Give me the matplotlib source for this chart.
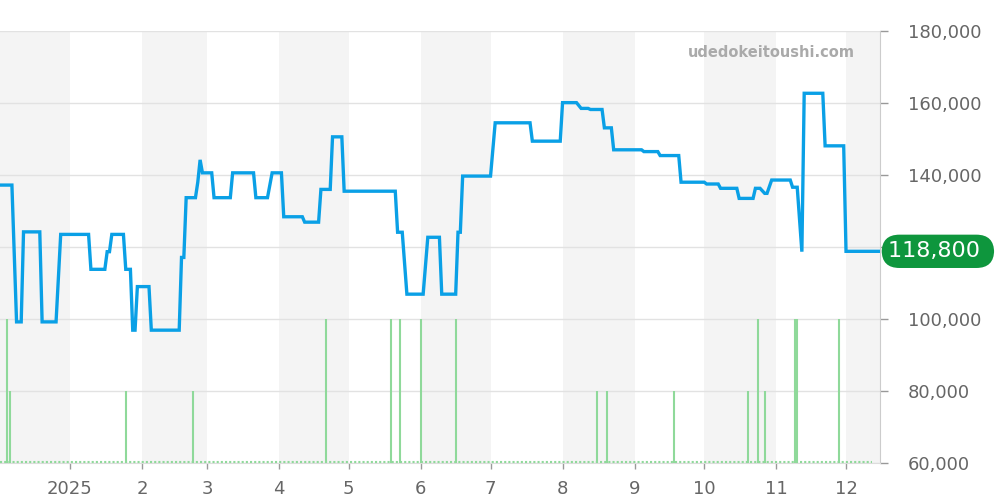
import matplotlib
matplotlib.use("Agg")
import matplotlib.pyplot as plt
import pandas as pd

# ---- data ----
price_dates = [
    "2024-12-02", "2024-12-07", "2024-12-09", "2024-12-11", "2024-12-12", "2024-12-19",
    "2024-12-20", "2024-12-26", "2024-12-28", "2025-01-09", "2025-01-10", "2025-01-16",
    "2025-01-17", "2025-01-18", "2025-01-19", "2025-01-24", "2025-01-25", "2025-01-27",
    "2025-01-28", "2025-01-29", "2025-01-30", "2025-02-04", "2025-02-05", "2025-02-17",
    "2025-02-18", "2025-02-19", "2025-02-20", "2025-02-24", "2025-02-25", "2025-02-26",
    "2025-02-27", "2025-03-03", "2025-03-04", "2025-03-11", "2025-03-12", "2025-03-21",
    "2025-03-22", "2025-03-27", "2025-03-29", "2025-04-02", "2025-04-03", "2025-04-11",
    "2025-04-12", "2025-04-18", "2025-04-19", "2025-04-23", "2025-04-24", "2025-04-28",
    "2025-04-29", "2025-05-21", "2025-05-22", "2025-05-24", "2025-05-26", "2025-06-02",
    "2025-06-04", "2025-06-09", "2025-06-10", "2025-06-16", "2025-06-17", "2025-06-18",
    "2025-06-19", "2025-07-01", "2025-07-03", "2025-07-18", "2025-07-19", "2025-07-31",
    "2025-08-01", "2025-08-07", "2025-08-09", "2025-08-12", "2025-08-13", "2025-08-18",
    "2025-08-19", "2025-08-22", "2025-08-23", "2025-09-04", "2025-09-05", "2025-09-11",
    "2025-09-12", "2025-09-20", "2025-09-21", "2025-10-01", "2025-10-02", "2025-10-07",
    "2025-10-08", "2025-10-15", "2025-10-16", "2025-10-22", "2025-10-23", "2025-10-25",
    "2025-10-27", "2025-10-28", "2025-10-30", "2025-11-07", "2025-11-08", "2025-11-10",
    "2025-11-12", "2025-11-13", "2025-11-21", "2025-11-22", "2025-11-30", "2025-12-01",
    "2025-12-15",
]
price_values = [
    137200, 137200, 99200, 99200, 124200, 124200,
    99200, 99200, 123500, 123500, 113800, 113800,
    118700, 118700, 123500, 123500, 113800, 113800,
    96900, 96900, 109000, 109000, 96900, 96900,
    117100, 117100, 133700, 133700, 138000, 144200,
    140600, 140600, 133700, 133700, 140600, 140600,
    133700, 133700, 140600, 140600, 128400, 128400,
    126900, 126900, 136000, 136000, 150600, 150600,
    135500, 135500, 124100, 124100, 106900, 106900,
    122700, 122700, 106900, 106900, 124100, 124100,
    139700, 139700, 154500, 154500, 149400, 149400,
    160100, 160100, 158500, 158500, 158200, 158200,
    153100, 153100, 147000, 147000, 146500, 146500,
    145400, 145400, 138000, 138000, 137500, 137500,
    136300, 136300, 133500, 133500, 136300, 136300,
    134900, 134900, 138600, 138600, 136600, 136600,
    118700, 162700, 162700, 148100, 148100, 118800,
    118800,
]

volume_dates = [
    "2024-12-05", "2024-12-06", "2025-01-25", "2025-02-23", "2025-04-21", "2025-05-19",
    "2025-05-23", "2025-06-01", "2025-06-16", "2025-08-16", "2025-08-20", "2025-09-18",
    "2025-10-20", "2025-10-24", "2025-10-27", "2025-11-09", "2025-11-10", "2025-11-28",
]
volume_counts = [2, 1, 1, 1, 2, 2, 2, 2, 2, 1, 1, 1, 1, 2, 1, 2, 2, 2]

shaded_months = ["2024-12", "2025-02", "2025-04", "2025-06", "2025-08", "2025-10", "2025-12"]
month_ticks = ["2025-01-01", "2025-02-01", "2025-03-01", "2025-04-01", "2025-05-01", "2025-06-01",
               "2025-07-01", "2025-08-01", "2025-09-01", "2025-10-01", "2025-11-01", "2025-12-01"]
month_labels = ["2025", "2", "3", "4", "5", "6", "7", "8", "9", "10", "11", "12"]
y_ticks = [60000, 80000, 100000, 120000, 140000, 160000, 180000]
last_price = 118800

# ---- plot ----
fig = plt.figure(figsize=(10, 5), dpi=100)
ax = fig.add_axes([0.0, 0.074, 0.88, 0.864])

px = pd.to_datetime(price_dates)
vx = pd.to_datetime(volume_dates)
x_start = pd.Timestamp("2024-12-01 21:00")
x_end = pd.Timestamp("2025-12-15 15:00")

for m in shaded_months:
    s = pd.Timestamp(m + "-01")
    e = s + pd.offsets.MonthBegin(1)
    ax.axvspan(max(s, x_start), min(e, x_end), color="#f4f4f4", lw=0, zorder=0)

ax.set_ylim(60000, 180000)
ax.set_xlim(x_start, x_end)
ax.grid(axis="y", color="#e2e2e2", lw=1, zorder=1)

# volume on a hidden twin axis
ax2 = ax.twinx()
ax2.set_ylim(0, 6)
ax2.set_xlim(x_start, x_end)
ax2.vlines(vx, 0, volume_counts, color="#8fd99a", lw=1.5, zorder=2)
ax2.plot([x_start, pd.Timestamp("2025-12-12")], [0.02, 0.02], color="#8fd99a", lw=1.5,
         ls=(0, (1, 1)), zorder=2, clip_on=False)
ax2.axis("off")

# price line on a twin with same scale (drawn above volume)
ax3 = ax.twinx()
ax3.set_ylim(60000, 180000)
ax3.set_xlim(x_start, x_end)
ax3.axis("off")
ax3.plot(px, price_values, color="#0aa0e6", lw=2.4, solid_joinstyle="miter", zorder=3)

# axis styling (after twins, so ticks stay on the right)
ax.set_yticks(y_ticks)
# the 120,000 label sits under the last-price badge, so it is not visible
ax.set_yticklabels(["" if v == 120000 else f"{v:,}" for v in y_ticks])
ax.yaxis.tick_right()
ax.set_xticks(pd.to_datetime(month_ticks))
ax.set_xticklabels(month_labels)
ax.tick_params(axis="both", colors="#999999", labelcolor="#666666", labelsize=13, width=1)
ax.tick_params(axis="y", pad=14, length=6, left=False, right=True, labelleft=False, labelright=True)
ax.tick_params(axis="x", pad=8, length=4)
for sp in ["top", "left"]:
    ax.spines[sp].set_visible(False)
ax.spines["right"].set_color("#cccccc")
ax.spines["bottom"].set_color("#dddddd")

ax3.text(0.876, 0.951, "udedokeitoushi.com", transform=ax.transAxes, ha="center", va="center",
         fontsize=10.5, fontweight="bold", color="#aaaaaa")

ax3.annotate(f"{last_price:,} ", xy=(1.0, last_price), xycoords=("axes fraction", "data"),
             xytext=(6, 0), textcoords="offset points", ha="left", va="center",
             fontsize=16, color="white",
             bbox=dict(boxstyle="round,pad=0.3,rounding_size=0.8", fc="#0e963d", ec="none"),
             annotation_clip=False, zorder=5)

fig.savefig("out.png", dpi=100)
